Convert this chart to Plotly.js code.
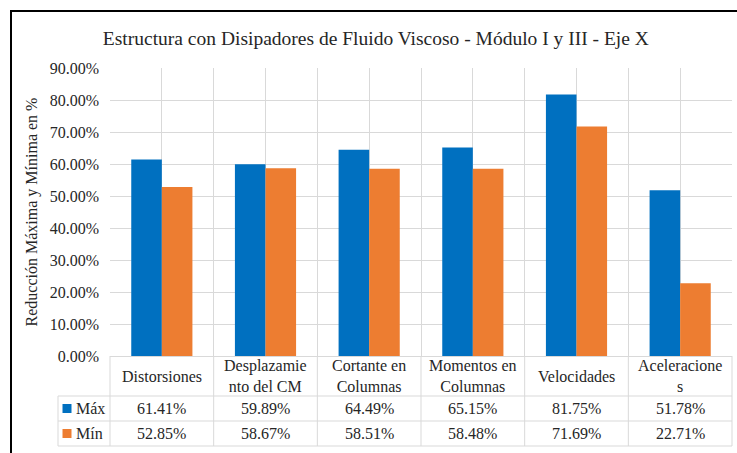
<!DOCTYPE html>
<html>
<head>
<meta charset="utf-8">
<script src="https://cdn.plot.ly/plotly-3.0.1.min.js"></script>
<style>html,body{margin:0;padding:0;background:#fff;}#chart{width:737px;height:453px;}</style>
</head>
<body>
<div id="chart"></div>
<script>
const categories = ["Distorsiones", "Desplazamie<br>nto del CM", "Cortante en<br>Columnas", "Momentos en<br>Columnas", "Velocidades", "Aceleracione<br>s"];
const maxVals = [61.41, 59.89, 64.49, 65.15, 81.75, 51.78];
const minVals = [52.85, 58.67, 58.51, 58.48, 71.69, 22.71];
const seriesNames = ["Máx", "Mín"];
const seriesColors = ["#0070C0", "#ED7D31"];
const titleText = "Estructura con Disipadores de Fluido Viscoso - Módulo I y III - Eje X";
const yTitleText = "Reducción Máxima y Mínima en %";

const W = 737, H = 453;
const L = 110, R = 732, T = 68, B = 356;
const n = categories.length;
const px = p => (p - L) / (R - L);
const py = p => (B - p) / (B - T);
const FONT = "Liberation Serif";
const TXT = "#262626";
const GRID = "#D9D9D9";

const xs = categories.map((c, i) => i);
const series = [maxVals, minVals];
const traces = series.map((vals, s) => ({
  type: "bar", x: xs, y: vals, name: seriesNames[s],
  marker: {color: seriesColors[s]}, hoverinfo: "skip"
}));

const shapes = [];
const annotations = [];
const line = (x0, y0, x1, y1, color, width) => shapes.push({
  type: "line", xref: "paper", yref: "paper", x0, y0, x1, y1,
  line: {color, width}, layer: "above"
});

// table rows
const rowLines = [396, 421, 446];
rowLines.forEach(r => line(px(58), py(r), 1, py(r), GRID, 1));
for (let k = 0; k <= n; k++) line(k / n, py(B), k / n, py(446), GRID, 1);
line(px(58), py(396), px(58), py(446), GRID, 1);

// header labels
categories.forEach((c, i) => annotations.push({
  xref: "paper", yref: "paper", x: (i + 0.5) / n, y: py(376), text: c,
  showarrow: false, xanchor: "center", yanchor: "middle",
  font: {family: FONT, size: 16, color: TXT}
}));
// value rows
const rowCenters = [408.5, 433.5];
series.forEach((vals, s) => {
  vals.forEach((v, i) => annotations.push({
    xref: "paper", yref: "paper", x: (i + 0.5) / n, y: py(rowCenters[s]),
    text: v.toFixed(2) + "%", showarrow: false, xanchor: "center", yanchor: "middle",
    font: {family: FONT, size: 16, color: TXT}
  }));
  shapes.push({type: "rect", xref: "paper", yref: "paper",
    x0: px(62.5), x1: px(71.5), y0: py(rowCenters[s] - 4.5), y1: py(rowCenters[s] + 4.5),
    fillcolor: seriesColors[s], line: {width: 0}, layer: "above"});
  annotations.push({
    xref: "paper", yref: "paper", x: px(74), y: py(rowCenters[s]),
    text: seriesNames[s], showarrow: false, xanchor: "left", yanchor: "middle",
    font: {family: FONT, size: 16, color: TXT}
  });
});

// outer frame (partial)
line(px(10), py(11), px(740), py(11), "#000", 2);
line(px(11), py(10), px(11), py(460), "#000", 2);

const layout = {
  width: W, height: H,
  margin: {l: L, r: W - R, t: T, b: H - B},
  paper_bgcolor: "#fff", plot_bgcolor: "#fff",
  font: {family: FONT, color: TXT},
  showlegend: false,
  barmode: "group", bargap: 0.41, bargroupgap: 0,
  title: {text: titleText, x: 0.51, xref: "container", y: 1 - 38 / H, yref: "container",
    xanchor: "center", yanchor: "middle", font: {family: FONT, size: 19.5, color: TXT}},
  xaxis: {range: [-0.5, n - 0.5], tick0: -0.5, dtick: 0.5, showticklabels: false,
    showgrid: true, gridcolor: GRID, gridwidth: 1, zeroline: false, ticks: "", showline: false, fixedrange: true},
  yaxis: {range: [0, 90], dtick: 10, tick0: 0, tickformat: ".2f", ticksuffix: "%",
    showgrid: true, gridcolor: GRID, gridwidth: 1, zeroline: true, zerolinecolor: GRID, zerolinewidth: 1,
    ticks: "", ticklabelstandoff: 10, showline: false,
    tickfont: {family: FONT, size: 16, color: TXT},
    title: {text: yTitleText, standoff: 8, font: {family: FONT, size: 16, color: TXT}}},
  shapes, annotations
};

Plotly.newPlot("chart", traces, layout, {displayModeBar: false, staticPlot: true});
</script>
</body>
</html>
